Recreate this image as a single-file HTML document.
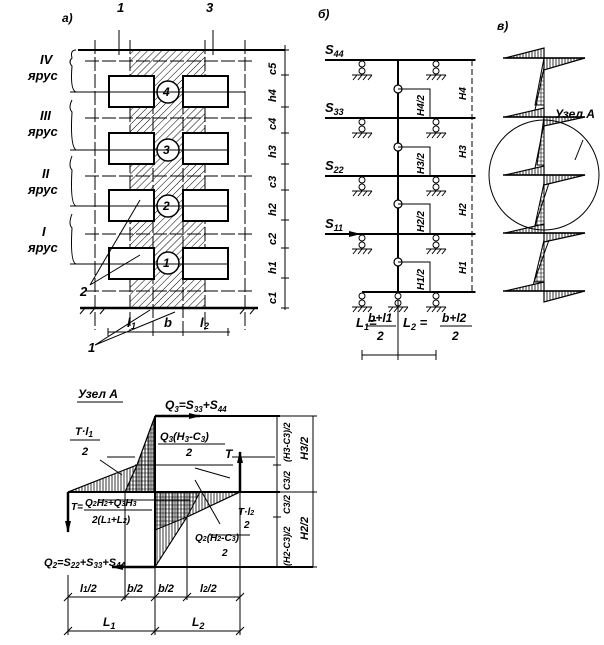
<!DOCTYPE html>
<html><head><meta charset="utf-8"><style>
body{margin:0;background:#fff}
svg{display:block}
text{font-family:"Liberation Sans",sans-serif;font-style:italic;font-weight:bold;fill:#000}
</style></head><body>
<svg width="604" height="645" viewBox="0 0 604 645" xmlns="http://www.w3.org/2000/svg">
<defs>
<pattern id="h" width="5" height="5" patternUnits="userSpaceOnUse" patternTransform="rotate(45)"><line x1="0" y1="0" x2="0" y2="5" stroke="#000" stroke-width="1"/></pattern>
<pattern id="v" width="3" height="3" patternUnits="userSpaceOnUse"><line x1="1" y1="0" x2="1" y2="3" stroke="#000" stroke-width="0.8"/></pattern>
<pattern id="g" width="4" height="4" patternUnits="userSpaceOnUse"><path d="M1 0V4M0 1H4" stroke="#000" stroke-width="0.6"/></pattern>
<marker id="ar" markerWidth="12" markerHeight="6" refX="11" refY="3" orient="auto" markerUnits="userSpaceOnUse"><path d="M0 0L12 3L0 6z"/></marker>
<g id="sup" stroke="#000" fill="none"><circle cx="0" cy="4" r="3" fill="#fff"/><circle cx="0" cy="11" r="3" fill="#fff"/><path d="M-10 15H10M-9 20l4-5M-4 20l4-5M1 20l4-5M6 20l4-5"/></g>
</defs>
<g stroke="#000" fill="none" stroke-width="1">
<!-- panel a -->
<rect x="130" y="50" width="75" height="258" fill="url(#h)" stroke="none"/>
<line x1="78" y1="50" x2="285" y2="50" stroke-width="2"/>
<line x1="80" y1="308" x2="258" y2="308" stroke-width="2.5"/>
<g stroke-dasharray="14,3">
<line x1="85" y1="61" x2="255" y2="61"/><line x1="85" y1="118" x2="255" y2="118"/>
<line x1="85" y1="176" x2="255" y2="176"/><line x1="85" y1="234" x2="255" y2="234"/>
<line x1="85" y1="291" x2="255" y2="291"/>
<line x1="95" y1="40" x2="95" y2="330"/><line x1="245" y1="40" x2="245" y2="330"/>
<line x1="130" y1="40" x2="130" y2="330"/><line x1="205" y1="40" x2="205" y2="330"/>
<line x1="153" y1="100" x2="153" y2="335"/><line x1="183" y1="100" x2="183" y2="335"/>
</g>
<g fill="#fff" stroke-width="2">
<rect x="109" y="76" width="45" height="31"/><rect x="183" y="76" width="45" height="31"/>
<rect x="109" y="133" width="45" height="31"/><rect x="183" y="133" width="45" height="31"/>
<rect x="109" y="190" width="45" height="31"/><rect x="183" y="190" width="45" height="31"/>
<rect x="109" y="248" width="45" height="31"/><rect x="183" y="248" width="45" height="31"/>
</g>
<g fill="#fff" stroke-width="1.5">
<circle cx="168" cy="92" r="11"/><circle cx="168" cy="150" r="11"/><circle cx="168" cy="206" r="11"/><circle cx="168" cy="263" r="11"/>
</g>
<path d="M70 92H245M70 150H228M70 206H228M70 264H228"/>
<path d="M76 50Q70 50 72 58 68 62 72 66 70 90 76 92M72 100Q68 108 72 112 70 146 76 150M72 156Q68 166 72 170 70 204 76 206M72 214Q68 224 72 228 70 262 76 264"/>
<line x1="285" y1="45" x2="285" y2="310"/>
<path d="M281 50l8 0M281 75l8 0M281 107l8 0M281 133l8 0M281 164l8 0M281 190l8 0M281 220l8 0M281 248l8 0M281 278l8 0M281 308l8 0"/>
<line x1="108" y1="332" x2="230" y2="332"/>
<path d="M108 328v8M153 328v8M183 328v8M228 328v8"/>
<path d="M90 285L140 200M90 285L140 255M95 345L150 310M95 345L175 312M119 30V55M213 30V55"/>
<path d="M80 314l5 -6M90 314l5 -6M100 314l5 -6M240 314l5 -6M250 314l5 -6"/>
<!-- panel b -->
<g stroke-width="2">
<path d="M325 60H475M325 118H475M325 176H475M325 234H475M362 292H475"/>
<line x1="398" y1="60" x2="398" y2="292"/>
</g>
<g stroke-width="2" marker-end="url(#ar)"><path d="M325 60H360M325 118H360M325 176H360M325 234H360"/></g>
<g fill="#fff" stroke-width="1.2">
<circle cx="398" cy="89" r="4"/><circle cx="398" cy="147" r="4"/><circle cx="398" cy="204" r="4"/><circle cx="398" cy="262" r="4"/>
</g>
<path d="M398 89H430V118M398 147H430V176M398 204H430V234M398 262H430V292"/>
<g stroke-dasharray="6,3"><line x1="472" y1="60" x2="472" y2="292"/></g>
<path d="M468 60h8M468 118h8M468 176h8M468 234h8M468 292h8"/>
<use href="#sup" x="362" y="60"/><use href="#sup" x="436" y="60"/>
<use href="#sup" x="362" y="118"/><use href="#sup" x="436" y="118"/>
<use href="#sup" x="362" y="176"/><use href="#sup" x="436" y="176"/>
<use href="#sup" x="362" y="234"/><use href="#sup" x="436" y="234"/>
<use href="#sup" x="362" y="292"/><use href="#sup" x="398" y="292"/><use href="#sup" x="436" y="292"/>
<line x1="362" y1="355" x2="436" y2="355"/><path d="M362 350v10M398 350v10M436 350v10M398 300v50"/>
<!-- panel v -->
<line x1="544" y1="50" x2="544" y2="300"/>
<path d="M503 58H585M503 117H585M503 175H585M503 233H585M503 291H585" stroke-width="1.5"/>
<circle cx="544" cy="175" r="55"/>
<g fill="url(#v)" stroke-width="1.2">
<path d="M505 58L544 48V58Z"/><path d="M544 58L585 58L544 70Z"/>
<path d="M505 117L544 108V117Z"/><path d="M544 117L585 117L544 126Z"/>
<path d="M505 175L544 166V175Z"/><path d="M544 175L585 175L544 185Z"/>
<path d="M505 233L544 224V233Z"/><path d="M544 233L585 233L544 242Z"/>
<path d="M505 291L544 282V291Z"/><path d="M544 291L585 291L544 302Z"/>
</g>
<g fill="url(#g)" stroke-width="1">
<path d="M544 58L535 105L544 105Z"/><path d="M544 117L537 165L544 165Z"/>
<path d="M544 183L535 225L544 225Z"/><path d="M544 240L534 282L544 282Z"/>
</g>
<path d="M544 68L535 110M544 124L535 168M549 183L535 226M549 240L533 285"/>
<path d="M583 140L575 160"/>
<!-- node A -->
<line x1="77" y1="402" x2="123" y2="402"/>
<path d="M155 416L137 465L68 492L155 492Z" fill="url(#v)"/>
<path d="M155 416L137 465L155 465Z" fill="url(#g)"/>
<path d="M137 465L155 465V492H125Z" fill="url(#g)"/>
<path d="M155 492H240L187 517L155 567Z" fill="url(#v)"/>
<path d="M155 492H200L187 517L155 530Z" fill="url(#g)"/>
<g stroke-width="2">
<path d="M155 416H280M68 492H280M155 567H313M155 416V567"/>
</g>
<path d="M155 416L137 465L68 492M137 465L125 492M155 567L187 517L240 492M135 465H233M313 416V567M277 416V567"/>
<path d="M273 416h44M273 465h8M273 492h44M273 517h8M273 567h44"/>
<g stroke-width="2.5" marker-end="url(#ar)">
<path d="M155 416H200"/><path d="M155 567H112"/><path d="M240 492V452"/><path d="M68 492V532"/>
</g>
<path d="M68 575V635M125 492V600M155 567V635M187 517V600M240 492V635"/>
<line x1="68" y1="597" x2="240" y2="597"/><line x1="68" y1="631" x2="240" y2="631"/>
<path d="M64 601l8-8M121 601l8-8M151 601l8-8M183 601l8-8M236 601l8-8M64 635l8-8M151 635l8-8M236 635l8-8"/>
<path d="M107 457H135M98 500H190M232 457H275M210 535H250"/>
<path d="M195 468L230 478M195 480L220 524M100 460L122 475"/>
</g>
<g font-size="13">
<text x="62" y="22" font-size="12">а)</text>
<text x="117" y="12">1</text><text x="206" y="12">3</text>
<text x="40" y="64">IV</text><text x="28" y="80">ярус</text>
<text x="40" y="120">III</text><text x="28" y="136">ярус</text>
<text x="42" y="178">II</text><text x="28" y="194">ярус</text>
<text x="42" y="236">I</text><text x="28" y="252">ярус</text>
<text x="80" y="296">2</text><text x="88" y="352">1</text>
<text x="127" y="327">l</text><text x="131" y="329" font-size="9">1</text>
<text x="164" y="327">b</text>
<text x="200" y="327">l</text><text x="204" y="329" font-size="9">2</text>
<text x="163" y="96" font-size="12">4</text><text x="163" y="154" font-size="12">3</text><text x="163" y="210" font-size="12">2</text><text x="163" y="267" font-size="12">1</text>
<g font-size="11">
<text transform="translate(276,63) rotate(-90)" x="-12" y="0">c5</text>
<text transform="translate(276,92) rotate(-90)" x="-10" y="0">h4</text>
<text transform="translate(276,120) rotate(-90)" x="-10" y="0">c4</text>
<text transform="translate(276,148) rotate(-90)" x="-10" y="0">h3</text>
<text transform="translate(276,178) rotate(-90)" x="-10" y="0">c3</text>
<text transform="translate(276,206) rotate(-90)" x="-10" y="0">h2</text>
<text transform="translate(276,235) rotate(-90)" x="-10" y="0">c2</text>
<text transform="translate(276,264) rotate(-90)" x="-10" y="0">h1</text>
<text transform="translate(276,294) rotate(-90)" x="-10" y="0">c1</text>
</g>
<text x="318" y="18" font-size="12">б)</text>
<text x="325" y="54">S<tspan font-size="9" dy="3">44</tspan></text>
<text x="325" y="112">S<tspan font-size="9" dy="3">33</tspan></text>
<text x="325" y="170">S<tspan font-size="9" dy="3">22</tspan></text>
<text x="325" y="228">S<tspan font-size="9" dy="3">11</tspan></text>
<g font-size="10">
<text transform="translate(424,104) rotate(-90)" x="-12">H4/2</text>
<text transform="translate(424,162) rotate(-90)" x="-12">H3/2</text>
<text transform="translate(424,220) rotate(-90)" x="-12">H2/2</text>
<text transform="translate(424,278) rotate(-90)" x="-12">H1/2</text>
<text transform="translate(466,92) rotate(-90)" x="-8">H4</text>
<text transform="translate(466,150) rotate(-90)" x="-8">H3</text>
<text transform="translate(466,208) rotate(-90)" x="-8">H2</text>
<text transform="translate(466,266) rotate(-90)" x="-8">H1</text>
</g>
<text x="356" y="327">L<tspan font-size="9" dy="3">1</tspan><tspan dy="-3">=</tspan></text>
<text x="368" y="322" font-size="12">b+l1</text><line x1="366" y1="326" x2="396" y2="326" stroke="#000"/><text x="377" y="340" font-size="12">2</text>
<text x="403" y="327">L<tspan font-size="9" dy="3">2</tspan><tspan dy="-3"> =</tspan></text>
<text x="442" y="322" font-size="12">b+l2</text><line x1="440" y1="326" x2="472" y2="326" stroke="#000"/><text x="452" y="340" font-size="12">2</text>
<text x="497" y="30" font-size="12">в)</text>
<text x="555" y="118" font-size="12">Узел А</text>
<text x="78" y="398" font-size="12">Узел А</text>
<text x="165" y="409" font-size="12">Q<tspan font-size="8" dy="3">3</tspan><tspan dy="-3">=S</tspan><tspan font-size="8" dy="3">33</tspan><tspan dy="-3">+S</tspan><tspan font-size="8" dy="3">44</tspan></text>
<text x="160" y="440" font-size="11">Q<tspan font-size="8" dy="2">3</tspan><tspan dy="-2">(H</tspan><tspan font-size="8" dy="2">3</tspan><tspan dy="-2">-C</tspan><tspan font-size="8" dy="2">3</tspan><tspan dy="-2">)</tspan></text>
<line x1="158" y1="444" x2="225" y2="444" stroke="#000"/><text x="186" y="456" font-size="11">2</text>
<text x="225" y="458" font-size="12">T</text>
<text x="75" y="435" font-size="11">T·l<tspan font-size="8" dy="2">1</tspan></text>
<line x1="70" y1="440" x2="100" y2="440" stroke="#000"/><text x="82" y="455" font-size="11">2</text>
<text x="71" y="510" font-size="10">T=</text>
<text x="85" y="506" font-size="10">Q<tspan font-size="7">2</tspan>H<tspan font-size="7">2</tspan>+Q<tspan font-size="7">3</tspan>H<tspan font-size="7">3</tspan></text>
<line x1="84" y1="510" x2="152" y2="510" stroke="#000"/>
<text x="92" y="523" font-size="10">2(L<tspan font-size="7">1</tspan>+L<tspan font-size="7">2</tspan>)</text>
<text x="44" y="566" font-size="11">Q<tspan font-size="8" dy="2">2</tspan><tspan dy="-2">=S</tspan><tspan font-size="8" dy="2">22</tspan><tspan dy="-2">+S</tspan><tspan font-size="8" dy="2">33</tspan><tspan dy="-2">+S</tspan><tspan font-size="8" dy="2">44</tspan></text>
<text x="238" y="515" font-size="10">T·l<tspan font-size="7">2</tspan></text>
<text x="244" y="528" font-size="10">2</text>
<text x="195" y="541" font-size="10">Q<tspan font-size="7">2</tspan>(H<tspan font-size="7">2</tspan>-C<tspan font-size="7">3</tspan>)</text>
<text x="222" y="556" font-size="10">2</text>
<g font-size="9">
<text transform="translate(290,462) rotate(-90)">(H3-C3)/2</text>
<text transform="translate(290,490) rotate(-90)">C3/2</text>
<text transform="translate(290,514) rotate(-90)">C3/2</text>
<text transform="translate(290,566) rotate(-90)">(H2-C3)/2</text>
<text transform="translate(308,460) rotate(-90)" font-size="11">H3/2</text>
<text transform="translate(308,540) rotate(-90)" font-size="11">H2/2</text>
</g>
<text x="80" y="592" font-size="11">l<tspan font-size="8">1</tspan>/2</text>
<text x="127" y="592" font-size="11">b/2</text>
<text x="158" y="592" font-size="11">b/2</text>
<text x="200" y="592" font-size="11">l<tspan font-size="8">2</tspan>/2</text>
<text x="103" y="626" font-size="12">L<tspan font-size="9" dy="3">1</tspan></text>
<text x="192" y="626" font-size="12">L<tspan font-size="9" dy="3">2</tspan></text>
</g>
</svg>
</body></html>
